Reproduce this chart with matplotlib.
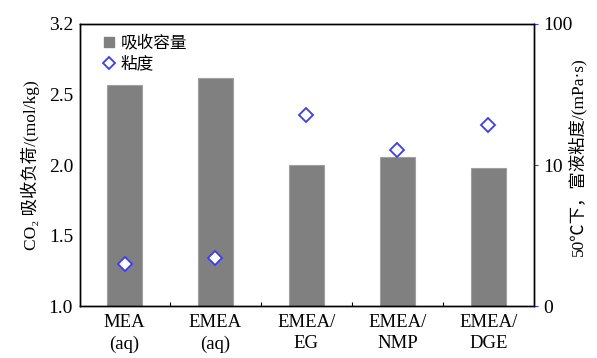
import matplotlib
matplotlib.use("Agg")
import matplotlib.pyplot as plt
from matplotlib.lines import Line2D
import numpy as np

plt.rcParams['font.family'] = ['Liberation Serif', 'Noto Sans CJK SC']

# data
categories = ["MEA\n(aq)", "EMEA\n(aq)", "EMEA/\nEG", "EMEA/\nNMP", "EMEA/\nDGE"]
capacity = [2.57, 2.62, 2.00, 2.06, 1.98]          # mol/kg
viscosity = [2.0, 2.2, 22.8, 12.8, 19.3]           # mPa·s, log axis
left_ticks = [1.0, 1.5, 2.0, 2.5, 3.0]
left_labels = ["1.0", "1.5", "2.0", "2.5", "3.2"]
right_ticks = [1, 10, 100]
right_labels = ["0", "10", "100"]

x = np.arange(len(categories))

fig = plt.figure(figsize=(5.97, 3.58), dpi=100)
ax = fig.add_axes([0.134, 0.145, 0.76, 0.788])

ax.bar(x, capacity, width=0.38, color="#808080", edgecolor="#a0a0a0", linewidth=0.8, zorder=2)
ax.set_xlim(-0.49, 4.5)
ax.set_ylim(1.0, 3.0)
ax.set_yticks(left_ticks)
ax.set_yticklabels(left_labels, fontsize=14)
ax.set_xticks(x)
ax.set_xticklabels(categories, fontsize=13.5, linespacing=1.3)
ax.set_xticks(x[:-1] + 0.5, minor=True)
ax.tick_params(axis="x", which="both", direction="in", length=3, width=0.8, pad=6)
ax.tick_params(axis="y", length=0, pad=5)
ax.set_ylabel("CO₂ 吸收负荷/(mol/kg)", fontsize=12.5, labelpad=6)

ax2 = ax.twinx()
ax2.set_yscale("log")
ax2.set_ylim(1, 100)
ax2.plot(x, viscosity, linestyle="none", marker="D", markersize=7,
         markerfacecolor="white", markeredgecolor="#3a3aff", markeredgewidth=1.3, zorder=3)
ax2.set_yticks(right_ticks)
ax2.set_yticklabels(right_labels, fontsize=14)
ax2.yaxis.set_minor_locator(matplotlib.ticker.NullLocator())
ax2.tick_params(axis="y", length=3, color="#3a3aff", pad=4)
ax2.set_ylabel("50℃下，富液粘度/(mPa·s)", fontsize=12.5)
ax2.yaxis.set_label_coords(1.075, 0.53)

for a in (ax, ax2):
    for s in a.spines.values():
        s.set_linewidth(1.0)

handles = [Line2D([], [], linestyle="none", marker="s", markersize=7,
                  color="#808080"),
           Line2D([], [], linestyle="none", marker="D", markersize=6,
                  markerfacecolor="white", markeredgecolor="#3a3aff", markeredgewidth=1.3)]
ax2.legend(handles, ["吸收容量", "粘度"], loc="upper left", frameon=False,
           fontsize=12, handletextpad=0.2, borderaxespad=0.3, labelspacing=0.3,
           handlelength=1.0, bbox_to_anchor=(0.02, 1.0))

fig.savefig("out.png", dpi=100)
